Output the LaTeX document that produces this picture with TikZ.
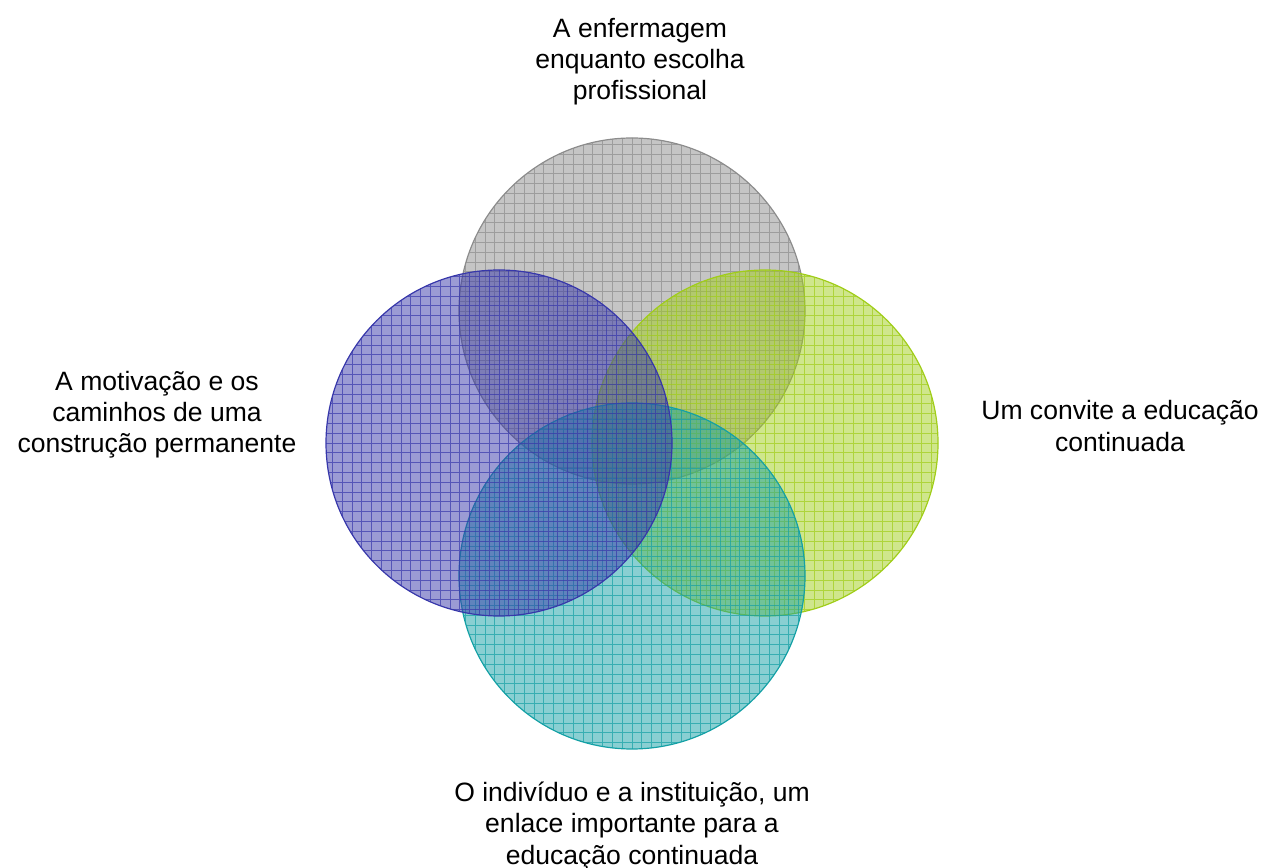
\documentclass[tikz,border=0pt]{standalone}
\usepackage{fontspec}
\setmainfont{Liberation Sans}
\definecolor{cgray}{RGB}{140,140,140}
\definecolor{cblue}{RGB}{55,55,170}
\definecolor{cgreen}{RGB}{160,205,25}
\definecolor{cteal}{RGB}{20,160,165}
\tikzset{
  venn/.style={circle, inner sep=0pt, outer sep=0pt, minimum size=259.5pt,
    fill=#1, fill opacity=0.5, draw=#1, line width=0.9pt, draw opacity=1,
    path picture={\draw[#1, line width=0.6pt, draw opacity=0.7, step=7.35pt]
      ([xshift=-10pt,yshift=-10pt]path picture bounding box.south west) grid
      ([xshift=10pt,yshift=10pt]path picture bounding box.north east);}},
  lbl/.style={align=center, text=black, font=\fontsize{19.9}{23.3}\selectfont, inner sep=0pt}
}
\begin{document}
\begin{tikzpicture}[x=0.75pt,y=0.75pt]
\useasboundingbox (0,0) rectangle (1262,867);
\node[venn=cgray] (top) at (632,556) {};
\node[venn=cgreen] (right) at (765,424) {};
\node[venn=cteal] (bottom) at (632,291) {};
\node[venn=cblue] (left) at (499,424) {};
\node[lbl] (ltop) at (640,805) {A enfermagem\\enquanto escolha\\profissional};
\node[lbl] (lleft) at (157,452) {A motivação e os\\caminhos de uma\\construção permanente};
\node[lbl] (lright) at (1120,441) {Um convite a educação\\continuada};
\node[lbl] (lbottom) at (632,41) {O indivíduo e a instituição, um\\enlace importante para a\\educação continuada};
\end{tikzpicture}
\end{document}
